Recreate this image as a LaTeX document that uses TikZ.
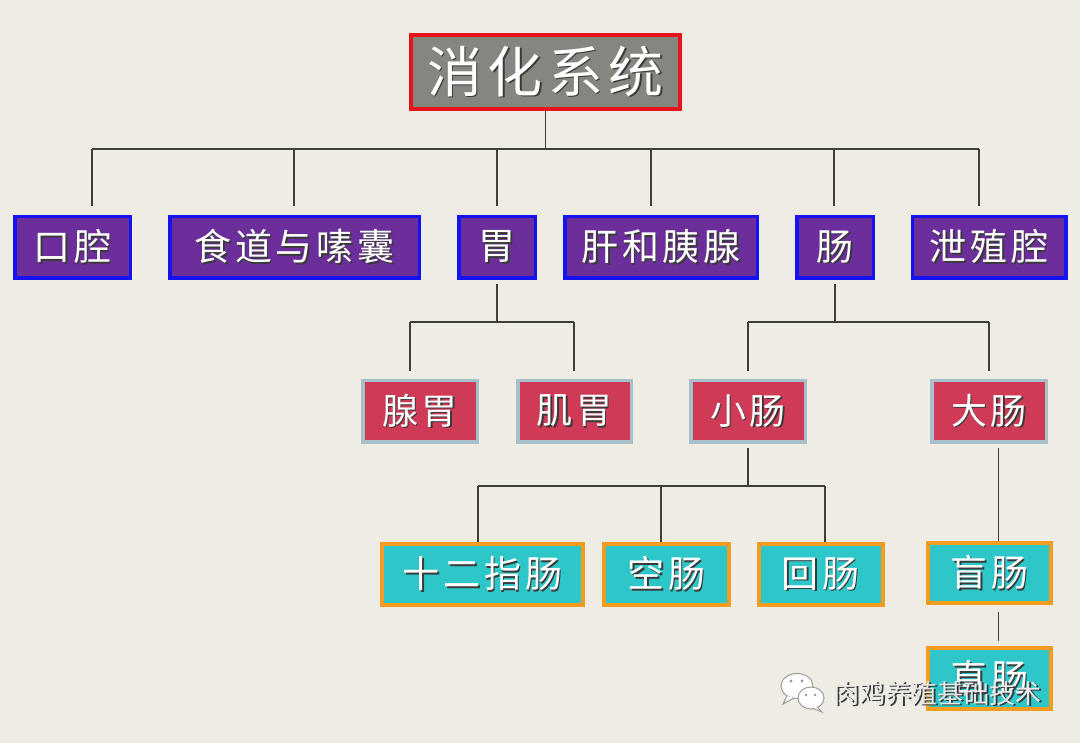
\documentclass[tikz,border=0pt]{standalone}
\usepackage{fontspec}
\newfontfamily\cjk[LetterSpace=10]{Noto Sans CJK SC}
\newfontfamily\cjkplain{Noto Sans CJK SC}
\definecolor{bgc}{HTML}{EFECE3}
\definecolor{rootfill}{HTML}{868681}
\definecolor{rootline}{HTML}{E8141B}
\definecolor{purp}{HTML}{6B2E9B}
\definecolor{blueb}{HTML}{1414F0}
\definecolor{crim}{HTML}{CF3A56}
\definecolor{crimb}{HTML}{A8BFCC}
\definecolor{cyanf}{HTML}{2EC7C9}
\definecolor{orangeb}{HTML}{F39C1F}
\definecolor{linec}{HTML}{3E3E3A}
\definecolor{shadowc}{HTML}{3A3A3A}
\definecolor{wmc}{HTML}{E9E9E9}
\definecolor{wmline}{HTML}{9A9A9A}
\newcommand{\sh}[1]{\makebox[0pt][l]{\hspace*{1.6pt}\raisebox{-1.6pt}{\textcolor{shadowc}{#1}}}#1}
\begin{document}
\begin{tikzpicture}[x=1pt,y=-1pt,
  boxbase/.style={rectangle,inner sep=0pt,text=white,anchor=center},
  rootbox/.style={boxbase,fill=rootfill,draw=rootline,line width=4pt,font=\cjk\fontsize{55}{60}\selectfont},
  lvone/.style={boxbase,fill=purp,draw=blueb,line width=3.5pt,minimum height=61.5pt,font=\cjk\fontsize{37}{42}\selectfont},
  lvtwo/.style={boxbase,fill=crim,draw=crimb,line width=3.5pt,minimum height=61.5pt,font=\cjk\fontsize{36}{42}\selectfont},
  lvthree/.style={boxbase,fill=cyanf,draw=orangeb,line width=4pt,minimum height=61pt,font=\cjk\fontsize{37}{42}\selectfont},
  conn/.style={draw=linec,line width=1.3pt},
  bubble/.style={fill=white,draw=wmline,line width=1pt}]
\fill[bgc] (0,0) rectangle (1080,743);
\useasboundingbox (0,0) rectangle (1080,743);

% root
\node[rootbox,minimum width=269pt,minimum height=74pt] (root) at (545.5,72) {\sh{消化系统}};

% level 1
\node[lvone,minimum width=115.5pt] (kq) at (72.5,247.5) {\sh{口腔}};
\node[lvone,minimum width=249.5pt] (sd) at (294.5,247.5) {\sh{食道与嗉囊}};
\node[lvone,minimum width=76.5pt] (wei) at (497,247.5) {\sh{胃}};
\node[lvone,minimum width=192.5pt] (gy) at (661,247.5) {\sh{肝和胰腺}};
\node[lvone,minimum width=76.5pt] (chang) at (835,247.5) {\sh{肠}};
\node[lvone,minimum width=153.5pt] (xzq) at (989,247.5) {\sh{泄殖腔}};

% level 2
\node[lvtwo,minimum width=114.5pt] (xw) at (420,411.5) {\sh{腺胃}};
\node[lvtwo,minimum width=113.5pt] (jw) at (574.5,411.5) {\sh{肌胃}};
\node[lvtwo,minimum width=114.5pt] (xc) at (748,411.5) {\sh{小肠}};
\node[lvtwo,minimum width=114.5pt] (dc) at (989,411.5) {\sh{大肠}};

% level 3
\node[lvthree,minimum width=201pt] (sez) at (482.5,574.5) {\sh{十二指肠}};
\node[lvthree,minimum width=125pt] (kc) at (666.5,574.5) {\sh{空肠}};
\node[lvthree,minimum width=124pt] (hc) at (820.5,574.5) {\sh{回肠}};
\node[lvthree,minimum width=123pt,minimum height=60pt] (mc) at (989.5,573) {\sh{盲肠}};
\node[lvthree,minimum width=123pt] (zc) at (989.5,678.5) {\sh{直肠}};

% connectors: root -> level 1
\coordinate (b1) at (92,149);
\coordinate (b2) at (294,149);
\coordinate (b3) at (497,149);
\coordinate (b4) at (651,149);
\coordinate (b5) at (834,149);
\coordinate (b6) at (979,149);
\draw[conn] (root.south) -- (root.south |- b1);
\draw[conn] (b1) -- (b6);
\draw[conn] (b1) -- ([yshift=9pt]kq.north -| b1);
\draw[conn] (b2) -- ([yshift=9pt]sd.north -| b2);
\draw[conn] (b3) -- ([yshift=9pt]wei.north -| b3);
\draw[conn] (b4) -- ([yshift=9pt]gy.north -| b4);
\draw[conn] (b5) -- ([yshift=9pt]chang.north -| b5);
\draw[conn] (b6) -- ([yshift=9pt]xzq.north -| b6);

% 胃 -> 腺胃, 肌胃
\coordinate (w1) at (410,322);
\coordinate (w2) at (574,322);
\draw[conn] ([yshift=-4pt]wei.south) -- (wei.south |- w1);
\draw[conn] (w1) -- (w2);
\draw[conn] (w1) -- ([yshift=8pt]xw.north -| w1);
\draw[conn] (w2) -- ([yshift=8pt]jw.north -| w2);

% 肠 -> 小肠, 大肠
\coordinate (c1) at (748,322);
\coordinate (c2) at (989,322);
\draw[conn] ([yshift=-4pt]chang.south) -- (chang.south |- c1);
\draw[conn] (c1) -- (c2);
\draw[conn] (c1) -- ([yshift=8pt]xc.north -| c1);
\draw[conn] (c2) -- ([yshift=8pt]dc.north -| c2);

% 小肠 -> 十二指肠, 空肠, 回肠
\coordinate (s1) at (478,486);
\coordinate (s2) at (661,486);
\coordinate (s3) at (825,486);
\draw[conn] ([yshift=-4pt]xc.south) -- (xc.south |- s1);
\draw[conn] (s1) -- (s3);
\draw[conn] (s1) -- (sez.north -| s1);
\draw[conn] (s2) -- (kc.north -| s2);
\draw[conn] (s3) -- (hc.north -| s3);

% 大肠 -> 盲肠 -> 直肠
\coordinate (dx) at (998.5,448);
\draw[conn] ([yshift=-4pt]dc.south -| dx) -- (mc.north -| dx);
\draw[conn] ([yshift=-7pt]mc.south -| dx) -- ([yshift=5pt]zc.north -| dx);

% watermark
\draw[bubble] (797,686) ellipse [x radius=16pt, y radius=12.5pt];
\draw[bubble] (787,696) -- (783,704) -- (794,698);
\draw[bubble] (811,698) ellipse [x radius=13pt, y radius=11pt];
\draw[bubble] (817,707) -- (822,712) -- (812,708);
\fill[wmline] (791,681) circle (1.6pt) (802,681) circle (1.6pt);
\fill[wmline] (806,695) circle (1.3pt) (815,695) circle (1.3pt);
\node[font=\cjkplain\fontsize{26}{30}\selectfont,text=wmc,inner sep=0pt] (wm) at (937.5,694) {\sh{肉鸡养殖基础技术}};
\end{tikzpicture}
\end{document}
